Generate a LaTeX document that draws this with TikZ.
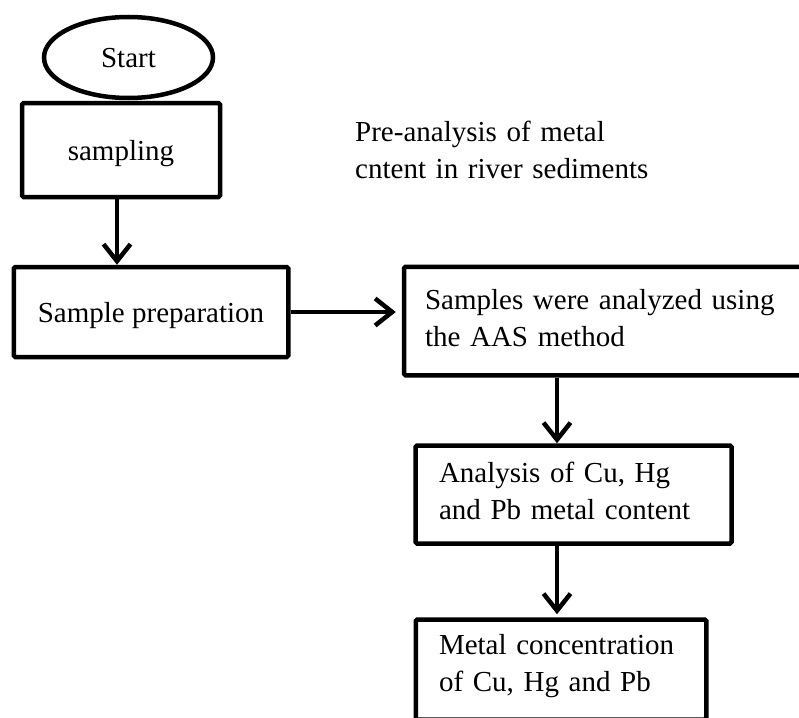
\documentclass[tikz,border=0pt]{standalone}
\usepackage{fontspec}
\setmainfont{Liberation Serif}
\usetikzlibrary{shapes.geometric,arrows.meta}
\begin{document}
\begin{tikzpicture}[x=1pt,y=-1pt,
  every node/.style={font=\fontsize{29}{37}\selectfont},
  box/.style={draw, line width=4.5pt, rectangle, rounded corners=1.5pt, inner sep=0pt},
  single/.style={text depth=0pt},
  multi/.style={text height=14pt, align=left},
  flow/.style={line width=4.5pt, -{Straight Barb[length=17pt,width=27pt]}},
]
\useasboundingbox (0,0) rectangle (799,717);
\clip (0,0) rectangle (799,717);
\fill[white] (0,0) rectangle (799,717);
\coordinate (c1) at (117,0);
\coordinate (c2) at (557,0);
\node[draw, line width=4.5pt, ellipse, minimum width=169pt, minimum height=81pt, inner sep=0pt, single] (start) at (128.5,57.5) {Start};
\node[box, single, minimum width=198pt, minimum height=94pt] (sampling) at (121,150) {sampling};
\node[box, single, minimum width=274.5pt, minimum height=90pt] (prep) at (151,312) {Sample preparation};
\node[box, multi, minimum width=436pt, minimum height=108.5pt, text width=394pt] (aas) at (622,321) {Samples were analyzed using\\the AAS method};
\node[box, multi, minimum width=316pt, minimum height=98pt, text width=269pt] (ana) at (573.5,494.5) {Analysis of Cu, Hg\\and Pb metal content};
\node[box, multi, minimum width=290.5pt, minimum height=100pt, text width=244pt] (metal) at (561,669.5) {Metal concentration\\of Cu, Hg and Pb};
\node[anchor=base west, inner sep=0pt, text width=320pt, align=left] (note) at (355,141) {Pre-analysis of metal\\cntent in river sediments};
\draw[flow] (sampling.south -| c1) -- (prep.north -| c1);
\draw[flow, shorten >=6pt] (prep.east) -- (prep.east -| aas.west);
\draw[flow] (aas.south -| c2) -- (ana.north -| c2);
\draw[flow, shorten >=3pt] (ana.south -| c2) -- (metal.north -| c2);
\end{tikzpicture}
\end{document}
